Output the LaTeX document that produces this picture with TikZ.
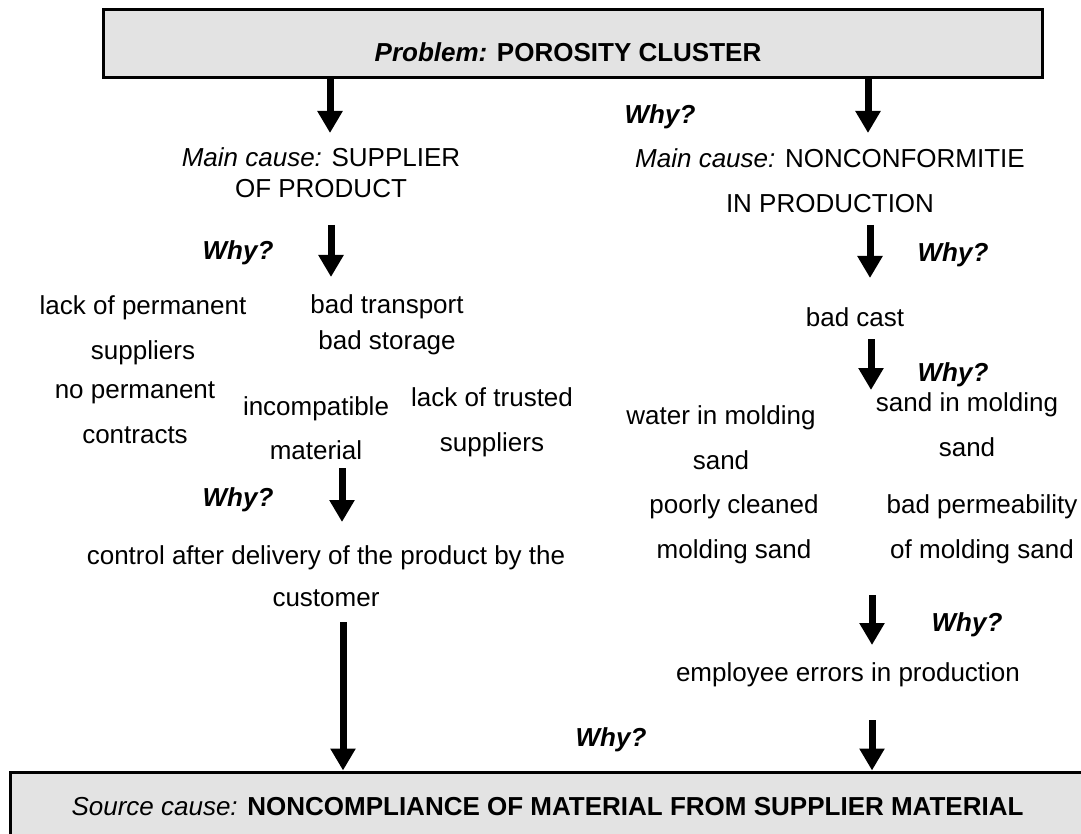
\documentclass[tikz,border=0pt]{standalone}
\usepackage{fontspec}
\setmainfont{Liberation Sans}
\usetikzlibrary{arrows.meta}
\definecolor{boxgray}{HTML}{E3E3E3}
\tikzset{
	txt/.style={font=\fontsize{26}{45}\selectfont, align=center, inner sep=0pt},
	why/.style={font=\fontsize{26}{30}\selectfont\bfseries\itshape, inner sep=0pt},
	box/.style={draw, line width=3pt, fill=boxgray, font=\fontsize{26}{30}\selectfont, inner sep=0pt},
	arr/.style={line width=7pt, -{Triangle[width=24pt,length=22pt]}}
}

\begin{document}
\begin{tikzpicture}[x=1pt,y=-1pt]
	\clip (0,0) rectangle (1081,834);
	\node[box, minimum width=939pt, minimum height=68pt] (problem) at (572.5,44) {};
	\node[txt, font=\fontsize{26}{30}\selectfont\bfseries] (ptxt) at (568,52) {\textit{Problem:} POROSITY CLUSTER};
	\node[box, minimum width=1075pt, minimum height=70pt] (source) at (547.5,807) {\textit{Source cause:} \textbf{NONCOMPLIANCE OF MATERIAL FROM SUPPLIER MATERIAL}};
	
	% left branch
	\node[txt, font=\fontsize{26}{31}\selectfont] (mc1) at (321,172.5) {\textit{Main cause:} SUPPLIER\\OF PRODUCT};
	\node[txt] (lp) at (143,330.5) {lack of permanent\\suppliers};
	\node[txt] (np) at (135,412.5) {no permanent\\contracts};
	\node[txt, font=\fontsize{26}{36}\selectfont] (bt) at (387,325) {bad transport\\bad storage};
	\node[txt, font=\fontsize{26}{44}\selectfont] (inc) at (316,428) {incompatible\\material};
	\node[txt] (lt) at (492,422.5) {lack of trusted\\suppliers};
	\node[txt, font=\fontsize{26}{42}\selectfont] (ctrl) at (326,576) {control after delivery of the product by the\\customer};
	
	% right branch
	\node[txt] (mc2) at (830,180.5) {\textit{Main cause:} NONCONFORMITIE\\IN PRODUCTION};
	\node[txt] (cast) at (855,317) {bad cast};
	\node[txt] (wm) at (721,438) {water in molding\\sand};
	\node[txt] (sm) at (967,424.5) {sand in molding\\sand};
	\node[txt] (pc) at (734,529.5) {poorly cleaned\\molding sand};
	\node[txt] (bp) at (982,529.5) {bad permeability\\of molding sand};
	\node[txt] (emp) at (848,675) {employee errors in production};
	
	\node[why] (w0) at (660,117) {Why?};
	\node[why] (w1) at (238,253) {Why?};
	\node[why] (w2) at (953,255) {Why?};
	\node[why] (w3) at (238,500) {Why?};
	\node[why] (w4) at (953,375) {Why?};
	\node[why] (w5) at (967,625) {Why?};
	\node[why] (w6) at (611,740) {Why?};
	
	\coordinate (a0) at (330,133);
	\coordinate (b0) at (868,133);
	\coordinate (a1s) at (331,225);
	\coordinate (a1) at (331,277);
	\coordinate (b1s) at (870,225);
	\coordinate (b1) at (870,278);
	\coordinate (b2s) at (871,339);
	\coordinate (b2) at (871,390);
	\coordinate (a2s) at (342,468);
	\coordinate (a2) at (342,522);
	\coordinate (b3s) at (872,595);
	\coordinate (b3) at (872,645);
	\coordinate (a3s) at (343,622);
	\coordinate (b4s) at (872,720);
	
	\path [arr] (problem.south -| a0) edge (a0);
	\path [arr] (problem.south -| b0) edge (b0);
	\path [arr] (a1s) edge (a1);
	\path [arr] (b1s) edge (b1);
	\path [arr] (b2s) edge (b2);
	\path [arr] (a2s) edge (a2);
	\path [arr] (b3s) edge (b3);
	\path [arr] (a3s) edge (source.north -| a3s);
	\path [arr] (b4s) edge (source.north -| b4s);
\end{tikzpicture}
\end{document}
